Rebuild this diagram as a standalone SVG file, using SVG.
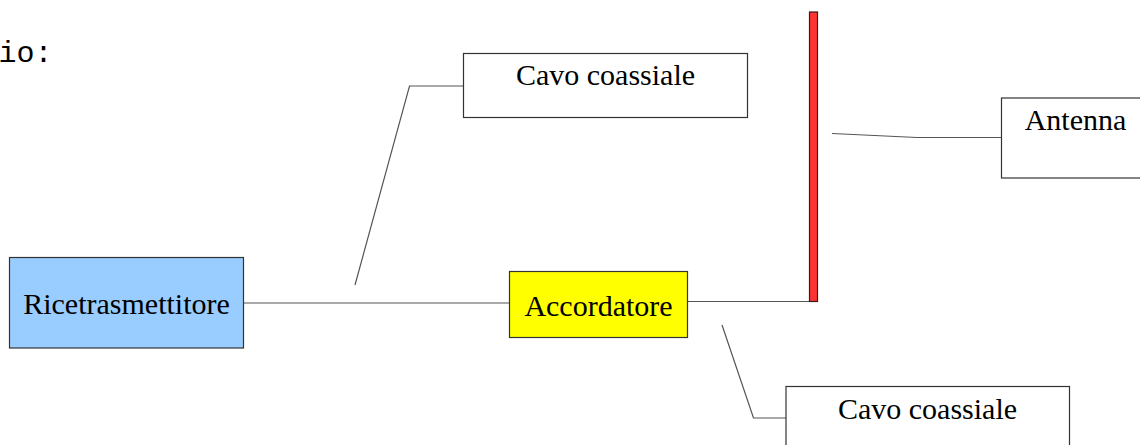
<svg xmlns="http://www.w3.org/2000/svg" width="1140" height="445" viewBox="0 0 1140 445">
<style>
.box{stroke:#333;stroke-width:1.2}
.lbl{font-family:"Liberation Serif","Times New Roman",serif;font-size:30px;fill:#000}
.mono{font-family:"Liberation Mono","Courier New",monospace;font-size:30px;fill:#000}
.wire{fill:none;stroke:#555;stroke-width:1.2}
</style>
<rect width="1140" height="445" fill="#fff"/>
<text class="mono" x="-1.5" y="62">io:</text>
<g id="connectors">
<polyline class="wire" points="355,285 409.5,86 463,86"/>
<line class="wire" x1="244" y1="303" x2="509.5" y2="303"/>
<line class="wire" x1="688" y1="301.5" x2="809" y2="301.5"/>
<polyline class="wire" points="832,133.5 917,137.5 1001,137.5"/>
<polyline class="wire" points="722,325 753.5,418 786,418"/>
</g>
<g id="cavo-top">
<rect class="box" x="463.5" y="53.5" width="284" height="64" fill="#fff"/>
<text class="lbl" x="605.5" y="85" text-anchor="middle">Cavo coassiale</text>
</g>
<g id="antenna-bar">
<rect x="809.5" y="12" width="8" height="289.5" fill="#ff3333" stroke="#3a1a1a" stroke-width="1.2"/>
</g>
<g id="antenna">
<rect class="box" x="1001.5" y="98" width="150" height="80" fill="#fff"/>
<text class="lbl" x="1075.5" y="129.5" text-anchor="middle">Antenna</text>
</g>
<g id="ricetrasmettitore">
<rect class="box" x="9.5" y="257.5" width="234" height="90.5" fill="#99ccff"/>
<text class="lbl" x="126.5" y="313.5" text-anchor="middle">Ricetrasmettitore</text>
</g>
<g id="accordatore">
<rect class="box" x="509.5" y="271.5" width="178" height="66" fill="#ffff00"/>
<text class="lbl" x="598.5" y="316" text-anchor="middle">Accordatore</text>
</g>
<g id="cavo-bottom">
<rect class="box" x="786" y="386.5" width="283.5" height="70" fill="#fff"/>
<text class="lbl" x="927.5" y="418.5" text-anchor="middle">Cavo coassiale</text>
</g>
</svg>
